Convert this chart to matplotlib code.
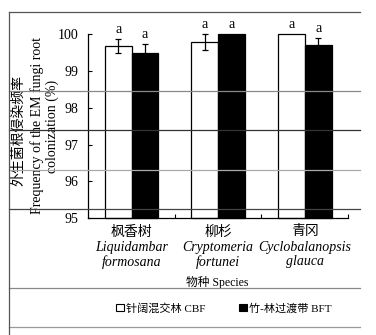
import numpy as np
import matplotlib.pyplot as plt
from matplotlib.lines import Line2D
from matplotlib.patches import Patch

plt.rcParams['font.family'] = ['Liberation Serif', 'Noto Sans CJK SC']
plt.rcParams['font.size'] = 10

# data
species_cn = ['枫香树', '柳杉', '青冈']
species_latin1 = ['Liquidambar', 'Cryptomeria', 'Cyclobalanopsis']
species_latin2 = ['formosana', 'fortunei', 'glauca']
cbf_mean = [99.69, 99.80, 100.0]
cbf_se = [0.19, 0.22, 0.0]
bft_mean = [99.48, 100.0, 99.70]
bft_se = [0.25, 0.0, 0.19]
cbf_letters = ['a', 'a', 'a']
bft_letters = ['a', 'a', 'a']

W, H = 376, 335
YMIN, YMAX = 95, 100

def fx(x):
    return x / W

def fy(y):
    return 1 - y / H

fig = plt.figure(figsize=(W / 100, H / 100), dpi=100)
ax = fig.add_axes([fx(88.3), fy(218), fx(348 - 88.3), (218 - 34.3) / H])

x = np.arange(len(species_cn))
w = 0.31
off = w / 2
ax.bar(x - off, np.array(cbf_mean) - YMIN, w, bottom=YMIN, color='white',
       edgecolor='black', linewidth=0.9, clip_on=False, zorder=2)
ax.bar(x + off, np.array(bft_mean) - YMIN, w, bottom=YMIN, color='black',
       edgecolor='black', linewidth=0.9, clip_on=False, zorder=2)

for i in range(len(x)):
    for xp, m, se, let in [(x[i] - off, cbf_mean[i], cbf_se[i], cbf_letters[i]),
                           (x[i] + off, bft_mean[i], bft_se[i], bft_letters[i])]:
        if se > 0:
            ax.errorbar(xp, m, yerr=se, fmt='none', ecolor='black', elinewidth=0.9,
                        capsize=2.3, capthick=0.9, zorder=3, clip_on=False)
        ax.text(xp, m + se + 0.08, let, ha='center', va='bottom', fontsize=10, clip_on=False)

ax.set_ylim(YMIN, YMAX)
ax.set_xlim(-0.5, 2.5)
ax.set_yticks([95, 96, 97, 98, 99, 100])
ax.set_xticks([0.5, 1.5, 2.5])
ax.set_xticklabels([])
ax.tick_params(axis='both', direction='in', length=3, width=0.8)
ax.tick_params(axis='y', pad=7, labelsize=10)
for s in ['top', 'right']:
    ax.spines[s].set_visible(False)
for s in ['left', 'bottom']:
    ax.spines[s].set_linewidth(0.9)

# category labels
tr = ax.get_xaxis_transform()
for i in range(len(x)):
    ax.text(x[i], (218 - 232) / 183.7, species_cn[i], ha='center', va='center',
            transform=tr, fontsize=10)
    ax.text(x[i], (218 - 247) / 183.7, species_latin1[i], ha='center', va='center',
            transform=tr, fontsize=10, style='italic')
    ax.text(x[i], (218 - 262) / 183.7, species_latin2[i], ha='center', va='center',
            transform=tr, fontsize=10, style='italic')

fig.text(fx(217), fy(282), '物种 Species', ha='center', va='center', fontsize=8.5)

# y label
fig.text(fx(19), fy(131), '外生菌根侵染频率', rotation=90, ha='center', va='center', fontsize=10)
fig.text(fx(37), fy(126), 'Frequency of the EM fungi root', rotation=90,
         ha='center', va='center', fontsize=10)
fig.text(fx(52), fy(126), 'colonization (%)', rotation=90,
         ha='center', va='center', fontsize=10)

# legend
handles = [Patch(facecolor='white', edgecolor='black', linewidth=0.8, label='针阔混交林 CBF'),
           Patch(facecolor='black', edgecolor='black', linewidth=0.8, label='竹-林过渡带 BFT')]
fig.legend(handles=handles, loc='center', bbox_to_anchor=(fx(224), fy(308)), ncol=2,
           frameon=False, handlelength=0.7, handleheight=0.7, handletextpad=0.2,
           columnspacing=3.0, fontsize=8)

# table rules around the figure
rules = [(12, '#555555'), (91, '#888888'), (130, '#333333'), (170, '#aaaaaa'),
         (209, '#444444'), (288, '#888888'), (327, '#999999')]
for yy, c in rules:
    fig.add_artist(Line2D([fx(9), fx(360)], [fy(yy), fy(yy)], color=c, linewidth=0.9, zorder=10))
fig.add_artist(Line2D([fx(9), fx(9)], [fy(12), fy(335)], color='#555555', linewidth=0.9, zorder=10))

fig.savefig('out.png', dpi=100)
